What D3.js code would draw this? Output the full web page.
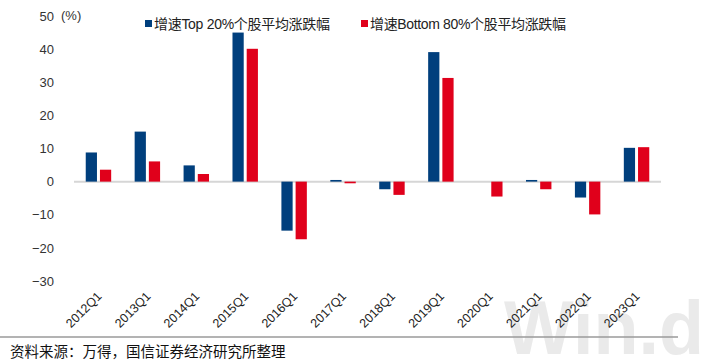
<!DOCTYPE html>
<html>
<head>
<meta charset="utf-8">
<script src="https://cdn.jsdelivr.net/npm/d3@7"></script>
<style>
  html, body { margin: 0; padding: 0; background: #fff; }
  #chart { width: 714px; height: 364px; }
  svg { display: block; font-family: "Liberation Sans", Arial, "Noto Sans CJK SC", sans-serif; }
</style>
</head>
<body>
<div id="chart"></div>
<script>
const categories = ["2012Q1", "2013Q1", "2014Q1", "2015Q1", "2016Q1", "2017Q1",
  "2018Q1", "2019Q1", "2020Q1", "2021Q1", "2022Q1", "2023Q1"];
const seriesNames = ["增速Top 20%个股平均涨跌幅", "增速Bottom 80%个股平均涨跌幅"];
const seriesColors = ["#003f7d", "#e0001b"];
const topValues = [8.8, 15.1, 4.9, 45.0, -14.8, 0.5, -2.3, 39.1, 0.0, 0.5, -4.8, 10.2];
const bottomValues = [3.6, 6.1, 2.3, 40.1, -17.4, -0.5, -4.0, 31.3, -4.5, -2.3, -9.9, 10.4];
const yTicks = [50, 40, 30, 20, 10, 0, -10, -20, -30];
const sourceText = "资料来源：万得，国信证券经济研究所整理";

const width = 714, height = 364;
const margin = { top: 16, right: 53, bottom: 83, left: 74 };

const svg = d3.select("#chart").append("svg")
  .attr("width", width).attr("height", height)
  .attr("viewBox", [0, 0, width, height]);

// watermark
svg.append("text")
  .attr("x", 504).attr("y", 354)
  .attr("font-size", 76).attr("font-weight", "bold")
  .attr("textLength", 200).attr("lengthAdjust", "spacingAndGlyphs")
  .attr("fill", "#eaeaea")
  .text("Win.d");

const x0 = d3.scaleBand()
  .domain(categories)
  .range([margin.left, width - margin.right])
  .paddingInner(0.48)
  .paddingOuter(0.24);

const x1 = d3.scaleBand()
  .domain([0, 1])
  .range([0, x0.bandwidth()])
  .paddingInner(0.21);

const y = d3.scaleLinear()
  .domain([-30, 50])
  .range([height - margin.bottom, margin.top]);

// y tick labels
const yAxis = svg.append("g")
  .attr("transform", `translate(${margin.left},0)`)
  .call(d3.axisLeft(y).tickValues(yTicks).tickSize(0).tickPadding(20)
    .tickFormat((d) => (d < 0 ? "\u2212" + Math.abs(d) : d)));
yAxis.select(".domain").remove();
yAxis.selectAll(".tick text")
  .attr("font-size", 13)
  .attr("fill", "#333")
  .attr("font-family", "Liberation Sans, Arial, sans-serif");

svg.append("text")
  .attr("x", 61).attr("y", y(50))
  .attr("dy", "0.32em")
  .attr("font-size", 13)
  .attr("fill", "#333")
  .text("(%)");

// zero line
svg.append("line")
  .attr("x1", margin.left).attr("x2", width - margin.right)
  .attr("y1", y(0)).attr("y2", y(0))
  .attr("stroke", "#d6d6d6").attr("stroke-width", 2);

// bars
const rows = categories.map((c, i) => ({ cat: c, values: [topValues[i], bottomValues[i]] }));
svg.append("g")
  .selectAll("g")
  .data(rows)
  .join("g")
  .attr("transform", (d) => `translate(${x0(d.cat)},0)`)
  .selectAll("rect")
  .data((d) => d.values.map((v, k) => ({ k, v })))
  .join("rect")
  .attr("x", (d) => x1(d.k))
  .attr("width", x1.bandwidth())
  .attr("y", (d) => y(Math.max(0, d.v)))
  .attr("height", (d) => Math.abs(y(d.v) - y(0)))
  .attr("fill", (d) => seriesColors[d.k]);

// x labels
svg.append("g")
  .selectAll("text")
  .data(categories)
  .join("text")
  .attr("transform", (d) => `translate(${x0(d) + x0.bandwidth() / 2 + 4},297) rotate(-45)`)
  .attr("text-anchor", "end")
  .attr("font-size", 12.5)
  .attr("fill", "#222")
  .text((d) => d);

// legend
const legendX = [145, 361];
const legendLen = [176, 196];
const legend = svg.append("g")
  .selectAll("g")
  .data(seriesNames)
  .join("g")
  .attr("transform", (d, i) => `translate(${legendX[i]},24)`);
legend.append("rect")
  .attr("x", 0).attr("y", -4)
  .attr("width", 7).attr("height", 7)
  .attr("fill", (d, i) => seriesColors[i]);
legend.append("text")
  .attr("x", 9).attr("dy", "0.35em")
  .attr("font-size", 14)
  .attr("fill", "#222")
  .attr("textLength", (d, i) => legendLen[i])
  .attr("lengthAdjust", "spacing")
  .text((d) => d);

// separator and source
svg.append("line")
  .attr("x1", 0).attr("x2", 678)
  .attr("y1", 337).attr("y2", 337)
  .attr("stroke", "#9a9a9a").attr("stroke-width", 1.5);

svg.append("text")
  .attr("x", 10).attr("y", 357)
  .attr("font-size", 14.5)
  .attr("fill", "#111")
  .attr("font-family", "Noto Sans CJK SC, sans-serif")
  .text(sourceText);
</script>
</body>
</html>
